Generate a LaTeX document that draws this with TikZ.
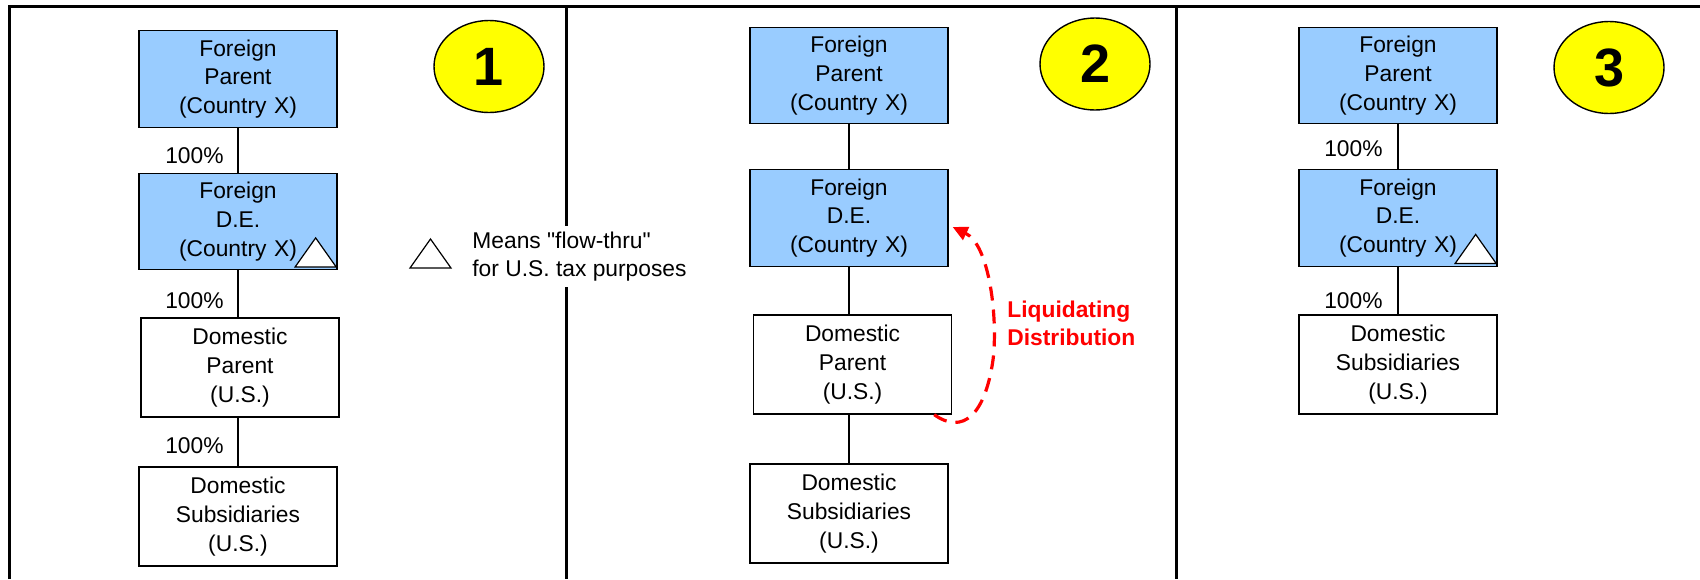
\documentclass[tikz,border=0pt]{standalone}
\usepackage{fontspec}
\setmainfont{Liberation Sans}[Ligatures=TeXOff]
\usetikzlibrary{shapes.geometric,arrows.meta,calc}
\definecolor{boxblue}{HTML}{99CCFF}
\definecolor{liqred}{HTML}{FF0000}
\definecolor{numyellow}{HTML}{FFFF00}
\tikzset{
  flowtri/.pic={\draw[fill=white,line width=0.6pt] (-20.5,0) -- (20.5,0) -- (0,-29) -- cycle;}
}
\begin{document}
\begin{tikzpicture}[x=0.5pt,y=-0.5pt,
  every node/.style={font=\fontsize{11.4}{14.35}\selectfont},
  entity/.style={draw=black, line width=0.65pt, minimum width=99pt, inner sep=0pt, align=center, text width=95pt},
  foreign/.style={entity, fill=boxblue, minimum height=48.25pt},
  domestic/.style={entity, fill=white, minimum height=49.5pt},
  conn/.style={line width=0.65pt},
  pct/.style={anchor=east, inner sep=0pt},
  panelline/.style={line width=1.5pt},
  numbadge/.style={ellipse, draw=black, line width=0.7pt, fill=numyellow, minimum width=55pt, minimum height=46pt, inner sep=0pt, font=\fontsize{27}{30}\selectfont\bfseries},
  legendtext/.style={anchor=west, align=left, fill=white, inner xsep=3pt, inner ysep=3pt},
  liqlabel/.style={anchor=west, align=left, inner sep=0pt, text=liqred, font=\fontsize{11.4}{14}\selectfont\bfseries},
  liqarrow/.style={draw=liqred, line width=1.6pt, dash pattern=on 7pt off 4.5pt, -{Triangle[length=7.5pt,width=7pt]}}
]
\useasboundingbox (0,0) rectangle (1700,579);

% frame and panel dividers
\draw[panelline] (9.5,579) -- (9.5,6) -- (1700,6);
\draw[panelline] (566,6) -- (566,579);
\draw[panelline] (1176,6) -- (1176,579);

% ---------- Panel 1 ----------
\node[foreign] (fp1) at (238,79) {Foreign\\Parent\\(Country X)};
\node[foreign] (fde1) at (238,221.5) {Foreign\\D.E.\\(Country X)};
\node[domestic] (dp1) at (240,367.5) {Domestic\\Parent\\(U.S.)};
\node[domestic] (ds1) at (238,516.5) {Domestic\\Subsidiaries\\(U.S.)};
\draw[conn] (fp1.south) -- (fde1.north);
\draw[conn] (fde1.south) -- (fde1.south |- dp1.north);
\draw[conn] (ds1.north |- dp1.south) -- (ds1.north);
\node[pct] (p1a) at (224,156) {100\%};
\node[pct] (p1b) at (224,301) {100\%};
\node[pct] (p1c) at (224,446) {100\%};
\pic at ([xshift=-11pt,yshift=1.75pt]fde1.south east) {flowtri};
\node[numbadge] (n1) at (489,66.5) {\raisebox{-3.5pt}{1}};

% legend
\pic at (430.5,268) {flowtri};
\node[legendtext] (legtext) at (466,256.5) {Means "flow-thru"\\for U.S. tax purposes};

% ---------- Panel 2 ----------
\node[foreign] (fp2) at (849,75.5) {Foreign\\Parent\\(Country X)};
\node[foreign] (fde2) at (849,218) {Foreign\\D.E.\\(Country X)};
\node[domestic] (dp2) at (852.5,364.5) {Domestic\\Parent\\(U.S.)};
\node[domestic] (ds2) at (849,513.5) {Domestic\\Subsidiaries\\(U.S.)};
\draw[conn] (fp2.south) -- (fde2.north);
\draw[conn] (fde2.south) -- (fde2.south |- dp2.north);
\draw[conn] (ds2.north |- dp2.south) -- (ds2.north);
\node[numbadge] (n2) at (1095,64) {\raisebox{-3.5pt}{2}};
\node[liqlabel] (liq) at (1007,323) {Liquidating\\Distribution};
\draw[liqarrow] ([xshift=-9pt]dp2.south east) .. controls (963,435) and (985,415) .. (993,360) .. controls (998,320) and (990,245) .. ([xshift=2pt,yshift=-4.5pt]fde2.east);

% ---------- Panel 3 ----------
\node[foreign] (fp3) at (1398,75.5) {Foreign\\Parent\\(Country X)};
\node[foreign] (fde3) at (1398,218) {Foreign\\D.E.\\(Country X)};
\node[domestic] (ds3) at (1398,364.5) {Domestic\\Subsidiaries\\(U.S.)};
\draw[conn] (fp3.south) -- (fde3.north);
\draw[conn] (fde3.south) -- (ds3.north);
\node[pct] (p3a) at (1383,149) {100\%};
\node[pct] (p3b) at (1383,301) {100\%};
\pic at ([xshift=-11pt,yshift=1.75pt]fde3.south east) {flowtri};
\node[numbadge] (n3) at (1609,67.5) {\raisebox{-3.5pt}{3}};
\end{tikzpicture}
\end{document}
